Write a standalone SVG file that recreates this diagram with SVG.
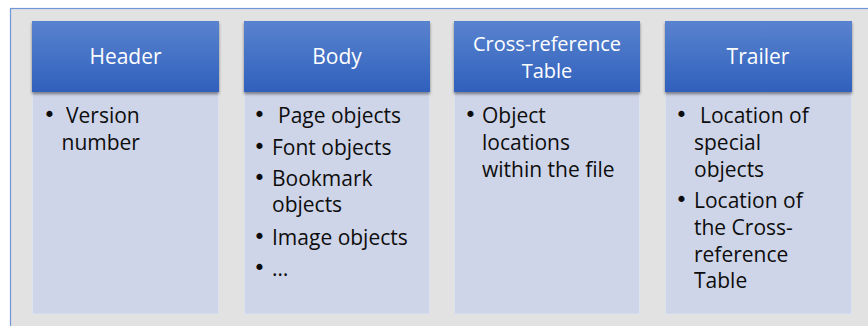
<svg xmlns="http://www.w3.org/2000/svg" width="868" height="326" viewBox="0 0 868 326">
<style>
.hd{fill:url(#g)}
.bd{fill:#cfd5e8;stroke:#dde2ef;stroke-width:1}
.tt{font-family:"Open Sans","Liberation Sans",sans-serif;font-size:21px;fill:#ffffff;text-anchor:middle}
.t2{font-size:20px}
.tx{font-family:"Open Sans","Liberation Sans",sans-serif;font-size:21px;fill:#0d0d0d}
.bu{font-family:"DejaVu Sans","Liberation Sans",sans-serif;font-size:21px;fill:#0d0d0d;text-anchor:middle}
</style>
<defs>
<linearGradient id="g" x1="0" y1="0" x2="0" y2="1">
<stop offset="0" stop-color="#5a83cf"/>
<stop offset="1" stop-color="#2f60bc"/>
</linearGradient>
<filter id="sh" x="-5%" y="-5%" width="110%" height="120%">
<feGaussianBlur in="SourceAlpha" stdDeviation="1.5"/>
<feOffset dy="1.5"/>
<feComponentTransfer><feFuncA type="linear" slope="0.45"/></feComponentTransfer>
<feMerge><feMergeNode/><feMergeNode in="SourceGraphic"/></feMerge>
</filter>
</defs>
<rect x="0" y="0" width="868" height="326" fill="#ffffff"/>
<rect x="10.5" y="8.5" width="870" height="330" fill="#e2e2e2" stroke="#6f96d8" stroke-width="1.2"/>
<g id="connectors"></g>
<g id="header">
<rect class="bd" x="32.5" y="92" width="186" height="222"/>
<rect class="hd" x="32" y="21" width="187" height="71" filter="url(#sh)"/>
<text class="tt" x="125.5" y="64">Header</text>
<text class="bu" x="49.5" y="122">•</text>
<text class="tx" x="66" y="123">Version</text>
<text class="tx" x="61.5" y="150">number</text>
</g>
<g id="body">
<rect class="bd" x="244.5" y="92" width="185" height="222"/>
<rect class="hd" x="244" y="21" width="186" height="71" filter="url(#sh)"/>
<text class="tt" x="337" y="64">Body</text>
<text class="bu" x="259.5" y="122">•</text>
<text class="tx" x="278" y="123">Page objects</text>
<text class="bu" x="259.5" y="154">•</text>
<text class="tx" x="272" y="155">Font objects</text>
<text class="bu" x="259.5" y="185">•</text>
<text class="tx" x="272" y="186">Bookmark</text>
<text class="tx" x="272" y="212">objects</text>
<text class="bu" x="259.5" y="244">•</text>
<text class="tx" x="272" y="245">Image objects</text>
<text class="bu" x="259.5" y="275">•</text>
<text class="tx" x="272" y="276">…</text>
</g>
<g id="xref">
<rect class="bd" x="454.5" y="92" width="185" height="222"/>
<rect class="hd" x="454" y="21" width="186" height="71" filter="url(#sh)"/>
<text class="tt t2" x="547" y="50.5">Cross-reference</text>
<text class="tt t2" x="547" y="78">Table</text>
<text class="bu" x="470.5" y="122">•</text>
<text class="tx" x="482" y="123">Object</text>
<text class="tx" x="482" y="150">locations</text>
<text class="tx" x="482" y="177">within the file</text>
</g>
<g id="trailer">
<rect class="bd" x="665.5" y="92" width="186" height="222"/>
<rect class="hd" x="665" y="21" width="187" height="71" filter="url(#sh)"/>
<text class="tt" x="758" y="64">Trailer</text>
<text class="bu" x="681.5" y="122">•</text>
<text class="tx" x="700" y="123">Location of</text>
<text class="tx" x="694" y="150">special</text>
<text class="tx" x="694" y="177">objects</text>
<text class="bu" x="681.5" y="207">•</text>
<text class="tx" x="694" y="208">Location of</text>
<text class="tx" x="694" y="235">the Cross-</text>
<text class="tx" x="694" y="262">reference</text>
<text class="tx" x="694" y="288">Table</text>
</g>
</svg>
